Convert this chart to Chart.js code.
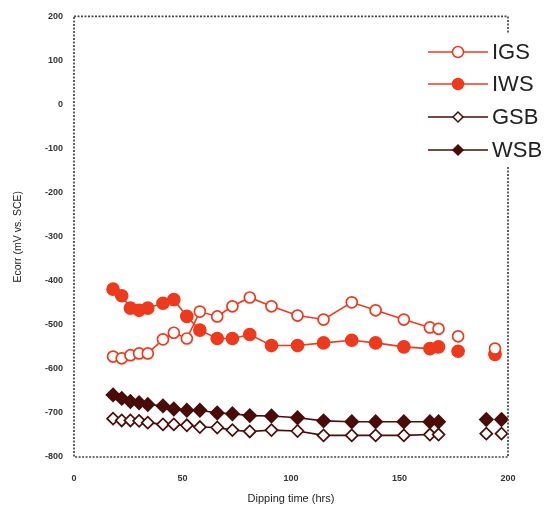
<!DOCTYPE html>
<html>
<head>
<meta charset="utf-8">
<script src="https://cdn.jsdelivr.net/npm/chart.js@4.4.1/dist/chart.umd.min.js"></script>
<style>
  html, body { margin: 0; padding: 0; background: #fff; }
  #wrap { width: 554px; height: 514px; }
</style>
</head>
<body>
<div id="wrap"><canvas id="ecorrChart" width="554" height="514"></canvas></div>
<script>
// dipping time (hrs)
const hours = [18, 22, 26, 30, 34, 41, 46, 52, 58, 66, 73, 81, 91, 103, 115, 128, 139, 152, 164, 168, 177, 190, 194, 197];
// Ecorr (mV vs. SCE)
const igs = [-572, -576, -569, -565, -565, -533, -518, -531, -470, -481, -458, -438, -458, -479, -488, -449, -467, -488, -506, -509, -526, null, -554, null];
const iws = [-419, -434, -462, -467, -462, -451, -443, -481, -512, -531, -531, -522, -547, -547, -541, -535, -541, -550, -554, -550, -560, null, -567, null];
const gsb = [-713, -717, -717, -718, -722, -726, -726, -728, -732, -733, -739, -742, -739, -741, -751, -751, -751, -751, -749, -749, null, -747, null, -747];
const wsb = [-659, -667, -674, -677, -681, -684, -691, -694, -694, -700, -702, -706, -707, -711, -718, -720, -720, -720, -720, -720, null, -715, null, -715];
const seriesNames = ['IGS', 'IWS', 'GSB', 'WSB'];

const RED = '#ee3a1c';
const DARK = '#4a0c08';

const toPoints = vals => hours.map((h, i) => ({ x: h, y: vals[i] }));

// last points after 168 h are not joined
const segmentColor = col => ({
    borderColor: ctx => ctx.p0.parsed.x >= 168 ? 'rgba(0,0,0,0)' : col
});

function makeSet(label, vals, col, style, filled, radius) {
    return {
        label: label,
        data: toPoints(vals),
        borderColor: col,
        borderWidth: 1.6,
        pointStyle: style,
        pointRadius: radius,
        pointBorderColor: col,
        pointBackgroundColor: filled ? col : '#fff',
        pointBorderWidth: 1.7,
        segment: segmentColor(col),
        tension: 0
    };
}

const frameAndLegend = {
    id: 'frameAndLegend',
    afterDatasetsDraw(chart) {
        const ctx = chart.ctx;
        const a = chart.chartArea;
        ctx.save();
        ctx.strokeStyle = '#444';
        ctx.lineWidth = 1.7;
        ctx.setLineDash([2, 1.5]);
        ctx.strokeRect(a.left, a.top, a.right - a.left, a.bottom - a.top);
        ctx.setLineDash([]);

        // legend box
        ctx.fillStyle = '#fff';
        ctx.fillRect(418, 33, 136, 134);
        const ys = [52, 84, 117, 150];
        chart.data.datasets.forEach((ds, i) => {
            const y = ys[i];
            ctx.strokeStyle = ds.borderColor;
            ctx.lineWidth = 1.7;
            ctx.beginPath();
            ctx.moveTo(428, y);
            ctx.lineTo(488, y);
            ctx.stroke();
            ctx.fillStyle = ds.pointBackgroundColor;
            ctx.strokeStyle = ds.pointBorderColor;
            ctx.lineWidth = 1.5;
            Chart.helpers.drawPoint(ctx, {
                pointStyle: ds.pointStyle,
                radius: ds.pointStyle === 'rectRot' ? 5 : 5.5,
                rotation: 0,
                borderWidth: 1.5
            }, 458, y);
            ctx.fillStyle = '#222';
            ctx.font = '22px "Liberation Sans", Arial, sans-serif';
            ctx.textBaseline = 'middle';
            ctx.textAlign = 'left';
            ctx.fillText(seriesNames[i], 492, y + 1);
        });
        ctx.restore();
    }
};

const tickFont = { family: '"Liberation Sans", Arial, sans-serif', size: 9, weight: 'bold' };

new Chart(document.getElementById('ecorrChart'), {
    type: 'line',
    data: {
        datasets: [
            makeSet('IGS', igs, RED, 'circle', false, 5.5),
            makeSet('IWS', iws, RED, 'circle', true, 6),
            makeSet('GSB', gsb, DARK, 'rectRot', false, 6),
            makeSet('WSB', wsb, DARK, 'rectRot', true, 6.5)
        ]
    },
    options: {
        responsive: false,
        animation: false,
        layout: { padding: { left: 8, right: 46, top: 8, bottom: 4 } },
        plugins: {
            legend: { display: false },
            tooltip: { enabled: false }
        },
        scales: {
            x: {
                type: 'linear',
                min: 0,
                max: 200,
                ticks: { stepSize: 50, color: '#333', font: tickFont, padding: 16 },
                grid: { display: false, drawTicks: false },
                border: { display: false },
                title: {
                    display: true,
                    text: 'Dipping time (hrs)',
                    color: '#222',
                    font: { family: '"Liberation Sans", Arial, sans-serif', size: 11 },
                    padding: { top: 12 }
                },
                afterFit: s => { s.height = 53; }
            },
            y: {
                min: -800,
                max: 200,
                ticks: { stepSize: 100, color: '#333', font: tickFont, padding: 11 },
                grid: { display: false, drawTicks: false },
                border: { display: false },
                title: {
                    display: true,
                    text: 'Ecorr (mV vs. SCE)',
                    color: '#222',
                    font: { family: '"Liberation Sans", Arial, sans-serif', size: 10.5 },
                    padding: { bottom: 4 }
                },
                afterFit: s => { s.width = 66; }
            }
        }
    },
    plugins: [frameAndLegend]
});
</script>
</body>
</html>
